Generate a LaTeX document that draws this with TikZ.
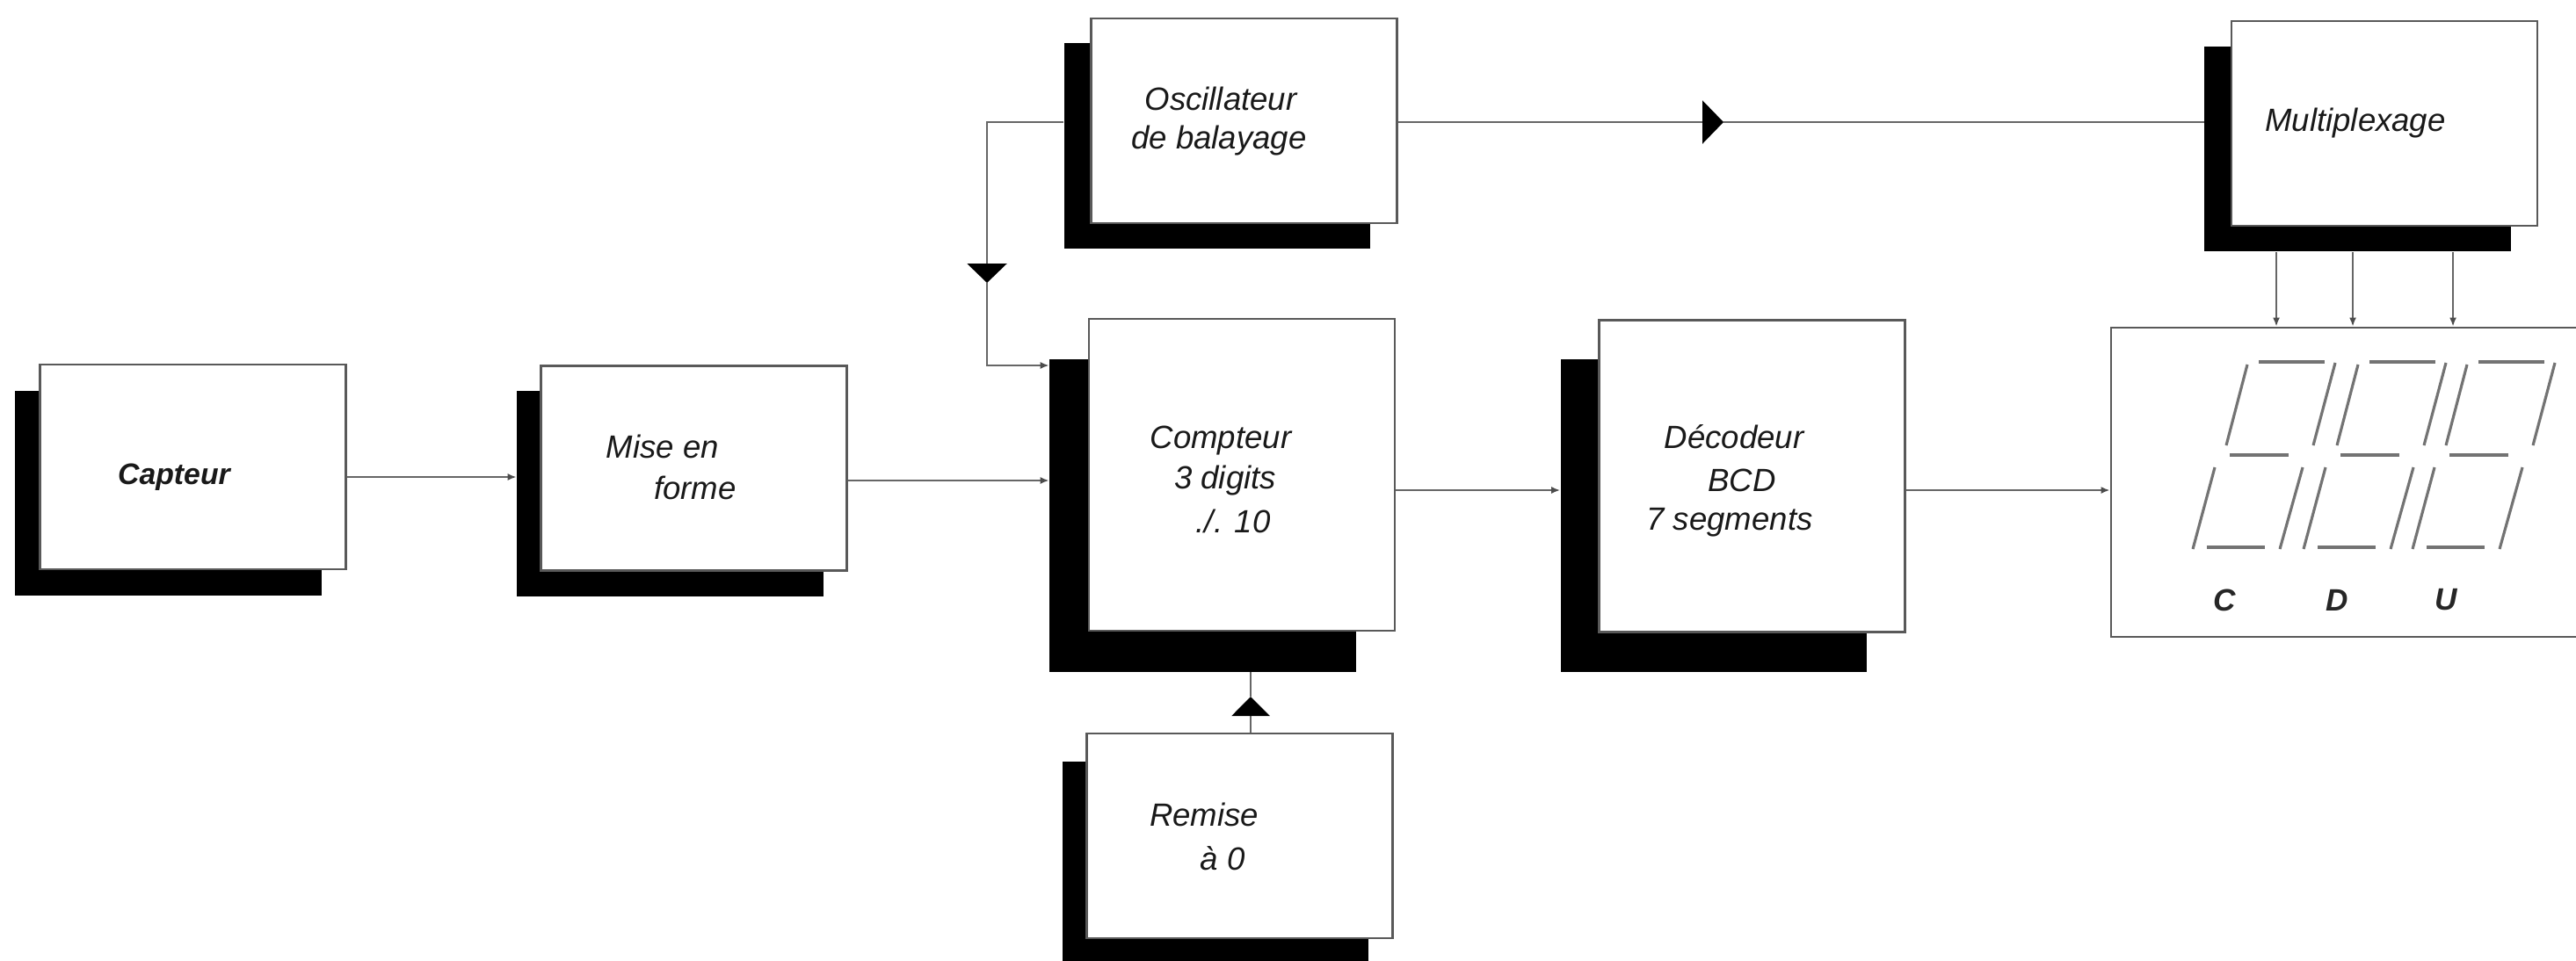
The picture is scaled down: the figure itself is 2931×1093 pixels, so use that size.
\documentclass[tikz,border=0pt]{standalone}
\usepackage{fontspec}
\setmainfont{Liberation Sans}
\usetikzlibrary{arrows.meta,calc}
\begin{document}
\begin{tikzpicture}[x=0.01cm,y=-0.01cm,
  box/.style={draw=black!65, line width=0.7pt, fill=white, shape=rectangle, minimum width=3.48cm, inner sep=0pt},
  lowbox/.style={box, minimum height=2.33cm},
  tallbox/.style={box, minimum height=3.55cm},
  drop/.style={fill=black, draw=none, shape=rectangle, minimum width=3.48cm, inner sep=0pt},
  lowdrop/.style={drop, minimum height=2.33cm},
  talldrop/.style={drop, minimum height=3.55cm},
  lbl/.style={font=\fontsize{10.4}{12}\selectfont\itshape, text=black!90, inner sep=0pt},
  boldlbl/.style={font=\fontsize{9.6}{12}\selectfont\bfseries\itshape, text=black!90, inner sep=0pt},
  digitlbl/.style={font=\fontsize{10}{12}\selectfont\bfseries\itshape, text=black!85, inner sep=0pt},
  conn/.style={draw=black!60, line width=0.7pt},
  smalltip/.style={-{Latex[length=1mm,width=0.8mm,black!70]}},
  seg/.style={draw=black!55, line width=0.9pt},
]
\useasboundingbox (0,0) rectangle (2931,1093);
\clip (0,0) rectangle (2931,1093);

% drop shadows
\node[lowdrop]  (capsh)  at (191.5,561.5) {};
\node[lowdrop]  (misesh) at (762.5,562) {};
\node[lowdrop]  (oscsh)  at (1385,166) {};
\node[talldrop] (compsh) at (1368.5,587) {};
\node[talldrop] (decsh)  at (1950,587) {};
\node[lowdrop]  (muxsh)  at (2682.5,169.5) {};
\node[lowdrop]  (remsh)  at (1383,983.5) {};

% boxes
\node[lowbox]  (capteur)  at (219.5,531.5) {};
\node[lowbox]  (mise)     at (789.5,533) {};
\node[lowbox]  (osc)      at (1415.5,137.5) {};
\node[tallbox] (compteur) at (1413,540.5) {};
\node[tallbox] (decodeur) at (1993.5,542) {};
\node[lowbox]  (mux)      at (2713,140.5) {};
\node[lowbox]  (remise)   at (1410.5,951.5) {};
\node[draw=black!65, line width=0.7pt, shape=rectangle, inner sep=0pt,
      minimum width=5.58cm, minimum height=3.52cm] (display) at (2681,549) {};

% texts
\node[boldlbl] (t-cap) at (198,543) {Capteur};
\node[lbl] (t-mise1) at (754,508) {Mise en};
\node[lbl] (t-mise2) at (791,555) {forme};
\node[lbl] (t-osc1) at (1389,112) {Oscillateur};
\node[lbl] (t-osc2) at (1387,160) {de balayage};
\node[lbl] (t-comp1) at (1389,502) {Compteur};
\node[lbl] (t-comp2) at (1394,547) {3 digits};
\node[lbl] (t-comp3) at (1403,593) {./. 10};
\node[lbl] (t-dec1) at (1973,497) {Décodeur};
\node[lbl] (t-dec2) at (1982,547) {BCD};
\node[lbl] (t-dec3) at (1968,595) {7 segments};
\node[lbl] (t-mux) at (2680,140) {Multiplexage};
\node[lbl] (t-rem1) at (1370,927) {Remise};
\node[lbl] (t-rem2) at (1391,977) {à 0};
\node[digitlbl] (t-c) at (2531,683) {C};
\node[digitlbl] (t-d) at (2659,683) {D};
\node[digitlbl] (t-u) at (2783,683) {U};

% seven-segment digits
\foreach \dx in {0,126,250} {
  \begin{scope}[shift={(\dx,0)}]
    \draw[seg] (2570,412) -- (2645,412);
    \draw[seg] (2557,415) -- (2533,507);
    \draw[seg] (2657,413) -- (2632,507);
    \draw[seg] (2537,518) -- (2604,518);
    \draw[seg] (2520,532) -- (2495,625);
    \draw[seg] (2620,532) -- (2594,625);
    \draw[seg] (2511,623) -- (2577,623);
  \end{scope}
}

% level coordinates
\coordinate (yA) at (0,543);
\coordinate (yB) at (0,547);
\coordinate (yC) at (0,558);
\coordinate (yD) at (0,139);
\coordinate (yE) at (0,416);
\coordinate (xR) at (1423,0);
\coordinate (xM1) at (2590,0);
\coordinate (xM2) at (2677,0);
\coordinate (xM3) at (2791,0);
\coordinate (m1) at (1961,139);
\coordinate (f1) at (1123,322);
\coordinate (r1) at (1423,793);

% connectors
\draw[conn,smalltip] (capteur.east |- yA) -- (misesh.west |- yA);
\draw[conn,smalltip] (mise.east |- yB) -- (compsh.west |- yB);
\draw[conn,smalltip] (compteur.east |- yC) -- (decsh.west |- yC);
\draw[conn,smalltip] (decodeur.east |- yC) -- (display.west |- yC);

\draw[conn,-{Triangle[length=0.24cm,width=0.49cm,black]}] (osc.east |- yD) -- (m1);
\draw[conn] (m1) -- (muxsh.west |- yD);

\draw[conn,-{Triangle[length=0.22cm,width=0.45cm,black]}] (oscsh.west |- yD) -| (f1);
\draw[conn,smalltip] (f1) |- (compsh.west |- yE);

\draw[conn,-{Triangle[length=0.22cm,width=0.43cm,black]}] (remise.north -| xR) -- (r1);
\draw[conn] (r1) -- (compsh.south -| xR);

\draw[conn,smalltip] (muxsh.south -| xM1) -- (display.north -| xM1);
\draw[conn,smalltip] (muxsh.south -| xM2) -- (display.north -| xM2);
\draw[conn,smalltip] (muxsh.south -| xM3) -- (display.north -| xM3);
\end{tikzpicture}
\end{document}
